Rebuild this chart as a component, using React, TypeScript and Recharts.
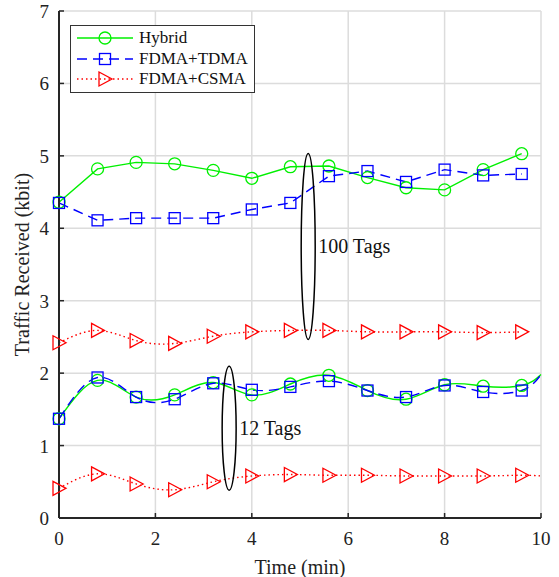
import {
  LineChart,
  Line,
  XAxis,
  YAxis,
  CartesianGrid,
  Legend,
  ReferenceDot,
} from "recharts";

const TIME = [0, 0.8, 1.6, 2.4, 3.2, 4.0, 4.8, 5.6, 6.4, 7.2, 8.0, 8.8, 9.6, 10];
const X_TICKS = [0, 2, 4, 6, 8, 10];
const Y_TICKS = [0, 1, 2, 3, 4, 5, 6, 7];

const HYBRID_100 = [4.36, 4.82, 4.91, 4.89, 4.8, 4.69, 4.85, 4.86, 4.7, 4.56, 4.53, 4.81, 5.03, null];
const TDMA_100 = [4.35, 4.11, 4.14, 4.14, 4.14, 4.26, 4.35, 4.72, 4.79, 4.64, 4.81, 4.73, 4.75, null];
const CSMA_100 = [2.42, 2.59, 2.45, 2.41, 2.51, 2.57, 2.59, 2.59, 2.57, 2.57, 2.57, 2.56, 2.57, null];
const HYBRID_12 = [1.37, 1.9, 1.67, 1.7, 1.87, 1.7, 1.85, 1.97, 1.76, 1.64, 1.84, 1.82, 1.83, 1.98];
const TDMA_12 = [1.37, 1.94, 1.67, 1.64, 1.86, 1.77, 1.81, 1.89, 1.76, 1.67, 1.83, 1.74, 1.76, 1.98];
const CSMA_12 = [0.41, 0.61, 0.47, 0.39, 0.5, 0.58, 0.6, 0.59, 0.59, 0.58, 0.58, 0.58, 0.59, 0.58];

const LEGEND_NAMES = ["Hybrid", "FDMA+TDMA", "FDMA+CSMA"];

const data = TIME.map((x, i) => ({
  x,
  hybrid100: HYBRID_100[i],
  tdma100: TDMA_100[i],
  csma100: CSMA_100[i],
  hybrid12: HYBRID_12[i],
  tdma12: TDMA_12[i],
  csma12: CSMA_12[i],
}));

const GREEN = "#00f000";
const BLUE = "#0000ff";
const RED = "#ff0000";
const AXIS = "#262626";
const FONT = "'Times New Roman', 'Liberation Serif', Times, serif";

type Marker = "circle" | "square" | "triangle";

function drawMarker(kind: Marker, cx: number, cy: number, color: string) {
  if (kind === "circle")
    return <circle cx={cx} cy={cy} r={6} fill="none" stroke={color} strokeWidth={1.3} />;
  if (kind === "square")
    return <rect x={cx - 5.5} y={cy - 5.5} width={11} height={11} fill="none" stroke={color} strokeWidth={1.3} />;
  return (
    <polygon
      points={`${cx - 6},${cy - 7} ${cx + 7},${cy} ${cx - 6},${cy + 7}`}
      fill="none"
      stroke={color}
      strokeWidth={1.3}
    />
  );
}

const makeDot = (kind: Marker, color: string) => (props: any) => {
  const { cx, cy, payload, value, index } = props;
  if (value == null || cy == null || payload.x >= 10) return <g key={index} />;
  return <g key={index}>{drawMarker(kind, cx, cy, color)}</g>;
};

const XTick = (props: any) => {
  const { x, y, payload } = props;
  return (
    <g>
      <line x1={x} y1={y} x2={x} y2={y - 5} stroke={AXIS} strokeWidth={1.5} />
      <text x={x} y={y + 27} textAnchor="middle" fontSize={19} fill="#222" fontFamily={FONT}>
        {payload.value}
      </text>
    </g>
  );
};

const YTick = (props: any) => {
  const { x, y, payload } = props;
  return (
    <g>
      <line x1={x} y1={y} x2={x + 5} y2={y} stroke={AXIS} strokeWidth={1.5} />
      <text x={x - 10} y={y + 7} textAnchor="end" fontSize={19} fill="#222" fontFamily={FONT}>
        {payload.value}
      </text>
    </g>
  );
};

const TopTick = (props: any) => (
  <line x1={props.x} y1={props.y} x2={props.x} y2={props.y + 5} stroke={AXIS} strokeWidth={1.5} />
);

const RightTick = (props: any) => (
  <line x1={props.x} y1={props.y} x2={props.x - 5} y2={props.y} stroke={AXIS} strokeWidth={1.5} />
);

const LegendBox = () => {
  const rows: { color: string; dash?: string; kind: Marker }[] = [
    { color: GREEN, kind: "circle" },
    { color: BLUE, dash: "10 6", kind: "square" },
    { color: RED, dash: "1.5 3", kind: "triangle" },
  ];
  return (
    <div
      style={{
        border: "1.5px solid #333",
        background: "#fff",
        padding: "2px 4px",
        fontFamily: FONT,
        fontSize: 17,
        color: "#111",
      }}
    >
      {rows.map((r, i) => (
        <div key={i} style={{ display: "flex", alignItems: "center", height: 20.5 }}>
          <svg width={60} height={20} style={{ marginRight: 4 }}>
            <line x1={2} y1={10} x2={58} y2={10} stroke={r.color} strokeWidth={1.5} strokeDasharray={r.dash} />
            {drawMarker(r.kind, 30, 10, r.color)}
          </svg>
          <span>{LEGEND_NAMES[i]}</span>
        </div>
      ))}
    </div>
  );
};

const Tag = (label: string, ry: number) => (props: any) => {
  const { cx, cy } = props;
  return (
    <g>
      <ellipse cx={cx} cy={cy} rx={7} ry={ry} fill="none" stroke="#000" strokeWidth={1.5} />
      <text x={cx + 10} y={cy + 7} fontSize={20} fontFamily={FONT} fill="#111">
        {label}
      </text>
    </g>
  );
};

export default function App() {
  return (
    <div style={{ width: 559, height: 577, background: "#fff", fontFamily: FONT }}>
      <style>{`body{margin:0}`}</style>
      <LineChart width={559} height={577} data={data} margin={{ top: 11, right: 18, bottom: 0, left: 0 }}>
        <CartesianGrid stroke="#dcdcdc" strokeWidth={1.5} />
        <XAxis
          dataKey="x"
          type="number"
          domain={[0, 10]}
          ticks={X_TICKS}
          height={59}
          tickSize={0}
          tickMargin={0}
          tick={<XTick />}
          axisLine={{ stroke: AXIS, strokeWidth: 2 }}
          label={{ value: "Time (min)", position: "insideBottom", offset: 3, fontSize: 20, fill: "#222", fontFamily: FONT }}
        />
        <XAxis
          xAxisId="top"
          orientation="top"
          dataKey="x"
          type="number"
          domain={[0, 10]}
          ticks={X_TICKS}
          height={0}
          tickSize={0}
          tick={<TopTick />}
          axisLine={{ stroke: AXIS, strokeWidth: 2 }}
        />
        <YAxis
          type="number"
          domain={[0, 7]}
          ticks={Y_TICKS}
          width={59}
          tickSize={0}
          tickMargin={0}
          tick={<YTick />}
          axisLine={{ stroke: AXIS, strokeWidth: 2 }}
          label={{
            value: "Traffic Received (kbit)",
            angle: -90,
            position: "insideLeft",
            offset: 22,
            fontSize: 20,
            fill: "#222",
            fontFamily: FONT,
            style: { textAnchor: "middle" },
          }}
        />
        <YAxis
          yAxisId="right"
          orientation="right"
          type="number"
          domain={[0, 7]}
          ticks={Y_TICKS}
          width={0}
          tickSize={0}
          tick={<RightTick />}
          axisLine={{ stroke: AXIS, strokeWidth: 2 }}
        />
        <Legend
          layout="vertical"
          align="center"
          verticalAlign="middle"
          content={<LegendBox />}
          wrapperStyle={{ left: 70, top: 25, width: 185 }}
        />
        <Line type="linear" dataKey="hybrid100" name="Hybrid" stroke={GREEN} strokeWidth={1.4} dot={makeDot("circle", GREEN)} isAnimationActive={false} legendType="none" />
        <Line type="linear" dataKey="tdma100" name="FDMA+TDMA" stroke={BLUE} strokeWidth={1.4} strokeDasharray="10 6" dot={makeDot("square", BLUE)} isAnimationActive={false} legendType="none" />
        <Line type="natural" dataKey="csma100" name="FDMA+CSMA" stroke={RED} strokeWidth={1.4} strokeDasharray="1.5 3" dot={makeDot("triangle", RED)} isAnimationActive={false} legendType="none" />
        <Line type="natural" dataKey="hybrid12" stroke={GREEN} strokeWidth={1.4} dot={makeDot("circle", GREEN)} isAnimationActive={false} legendType="none" />
        <Line type="natural" dataKey="tdma12" stroke={BLUE} strokeWidth={1.4} strokeDasharray="10 6" dot={makeDot("square", BLUE)} isAnimationActive={false} legendType="none" />
        <Line type="natural" dataKey="csma12" stroke={RED} strokeWidth={1.4} strokeDasharray="1.5 3" dot={makeDot("triangle", RED)} isAnimationActive={false} legendType="none" />
        <ReferenceDot x={5.17} y={3.75} r={1} shape={Tag("100 Tags", 93)} />
        <ReferenceDot x={3.53} y={1.24} r={1} shape={Tag("12 Tags", 62)} />
      </LineChart>
    </div>
  );
}
